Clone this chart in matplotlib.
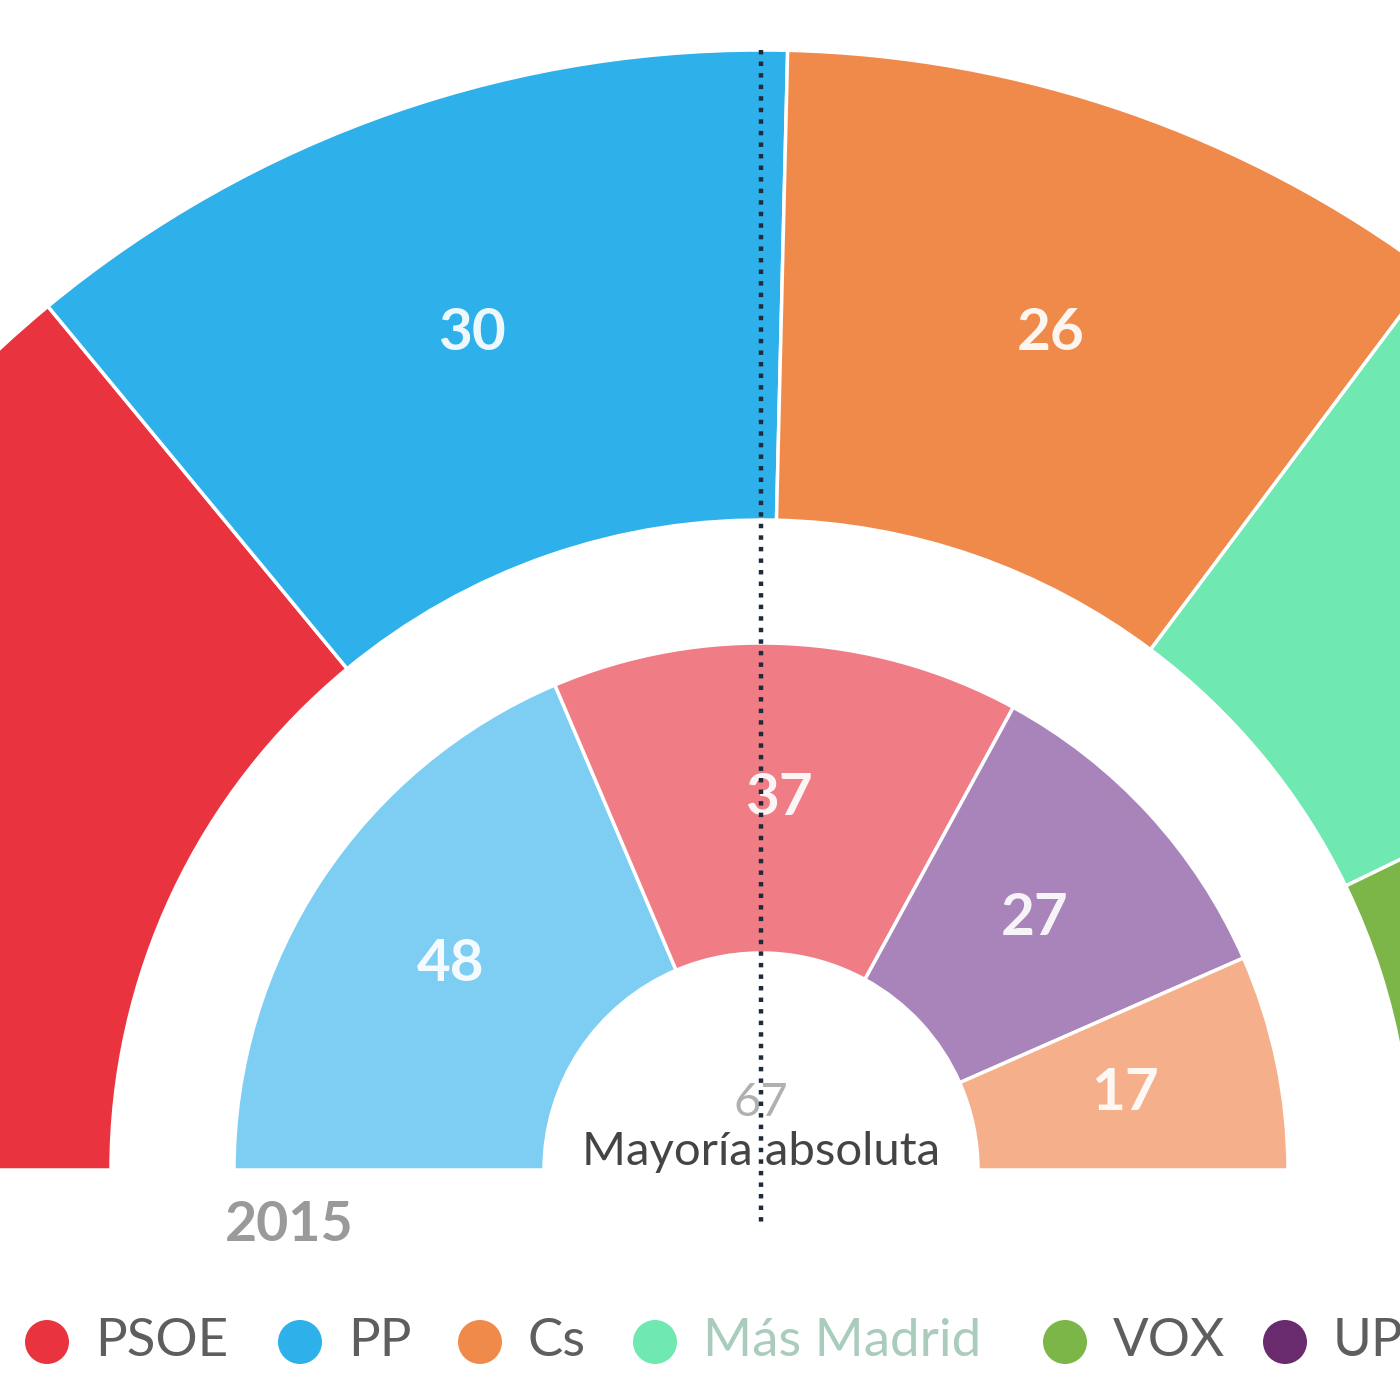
import matplotlib
matplotlib.use("Agg")
import matplotlib.pyplot as plt
from matplotlib.patches import Wedge, Circle
import numpy as np

plt.rcParams['font.family'] = ['Lato', 'DejaVu Sans']

# %% Data
parties_2019 = ["PSOE", "PP", "Cs", "Más Madrid", "VOX", "UP"]
seats_2019 = [37, 30, 26, 20, 12, 7]
colors_2019 = ["#E9343F", "#2EB0EA", "#F08A4B", "#6FE8B2", "#7CB548", "#6A2B6E"]

parties_2015 = ["PP", "PSOE", "Podemos", "Cs"]
seats_2015 = [48, 37, 27, 17]
colors_2015 = ["#7DCEF2", "#F07C86", "#A884BB", "#F5B08B"]

majority = 67
majority_label = "Mayoría absoluta"
year_label = "2015"

# %% Layout (pixel-like units, y measured up from the baseline)
cx, cy = 761, 0
outer_r, outer_w = 1120, 470
inner_r, inner_w = 527, 310
x_min, x_max = 0, 1400

fig = plt.figure(figsize=(14, 14), dpi=100)
ax = fig.add_axes([0, 0, 1, 1])
ax.set_xlim(x_min, x_max)
ax.set_ylim(-230, 1170)
ax.axis("off")


def draw_ring(seats, colors, r, w):
    total = sum(seats)
    cum = 0
    for s, c in zip(seats, colors):
        t1 = 180 - cum / total * 180
        t2 = 180 - (cum + s) / total * 180
        ax.add_patch(Wedge((cx, cy), r, t2, t1, width=w, facecolor=c,
                           edgecolor="white", linewidth=2.5))
        mid = np.deg2rad((t1 + t2) / 2)
        rm = r - w / 2
        lx, ly = cx + rm * np.cos(mid), cy + rm * np.sin(mid)
        # labels of segments cut by the frame are not shown
        if x_min + 60 < lx < x_max - 60:
            ax.text(lx, ly, str(s), color="white", fontsize=42,
                    fontweight="bold", ha="center", va="center", alpha=0.92)
        cum += s


draw_ring(seats_2019, colors_2019, outer_r, outer_w)
draw_ring(seats_2015, colors_2015, inner_r, inner_w)

# majority line
total_2019 = sum(seats_2019)
ang = np.deg2rad(180 - (majority - 1) / total_2019 * 180)
mx = cx + outer_r * np.cos(ang)
ax.plot([mx, mx], [outer_r, -52], color="#1d2b3a", linewidth=3.2,
        linestyle=(0, (1, 1.6)), zorder=5)

ax.text(cx, 67, str(majority), color="#b0b0b0", fontsize=34,
        ha="center", va="center")
ax.text(cx, 18, majority_label, color="#444444", fontsize=34,
        ha="center", va="center")
ax.text(289, -55, year_label, color="#9a9a9a", fontsize=40,
        fontweight="bold", ha="center", va="center")

# legend
leg_dot_x = [47, 300, 480, 655, 1065, 1285]
leg_y = -172
for name, c, x in zip(parties_2019, colors_2019, leg_dot_x):
    ax.add_patch(Circle((x, leg_y), 22, facecolor=c, edgecolor="none"))
    tc = "#a9ccbc" if name == "Más Madrid" else "#5e5e5e"
    ax.text(x + 48, leg_y, name, color=tc, fontsize=38,
            ha="left", va="center")

fig.savefig("out.png", dpi=100, facecolor="white")
